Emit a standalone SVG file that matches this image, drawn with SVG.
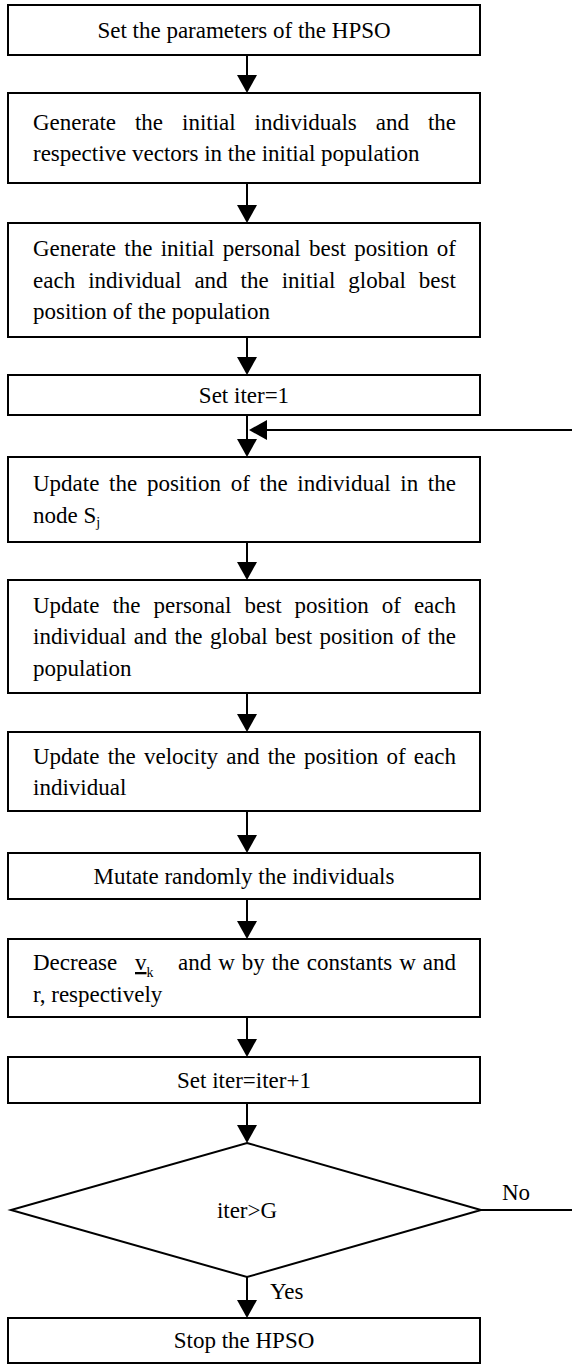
<svg xmlns="http://www.w3.org/2000/svg" width="572" height="1365" viewBox="0 0 572 1365">
<style>
.box{fill:#fff;stroke:#000;stroke-width:2}
.t{font-family:"Liberation Serif","Times New Roman",serif;font-size:23px;fill:#000}
.c{text-anchor:middle}
.sub{font-size:14px}
.conn{stroke:#000;stroke-width:2;fill:none;marker-end:url(#ah)}
.plain{stroke:#000;stroke-width:2;fill:none}
</style>
<defs>
<marker id="ah" markerUnits="userSpaceOnUse" markerWidth="18" markerHeight="20" viewBox="0 0 18 20" refX="10" refY="10" orient="auto">
<path d="M0,0 L18,10 L0,20 Z" fill="#000"/>
</marker>
</defs>
<rect width="572" height="1365" fill="#fff"/>
<g id="connectors">
<line class="conn" x1="247" y1="55" x2="247" y2="85"/>
<line class="conn" x1="247" y1="183" x2="247" y2="215"/>
<line class="conn" x1="247" y1="337" x2="247" y2="367"/>
<line class="conn" x1="247" y1="415" x2="247" y2="449"/>
<line class="conn" x1="247" y1="542" x2="247" y2="572"/>
<line class="conn" x1="247" y1="693" x2="247" y2="724"/>
<line class="conn" x1="247" y1="811" x2="247" y2="845"/>
<line class="conn" x1="247" y1="899" x2="247" y2="931"/>
<line class="conn" x1="247" y1="1017" x2="247" y2="1049"/>
<line class="conn" x1="247" y1="1103" x2="247" y2="1135"/>
<line class="conn" x1="247" y1="1277" x2="247" y2="1310"/>
<line class="plain" x1="481" y1="1210" x2="572" y2="1210"/>
<line class="conn" x1="572" y1="430" x2="257" y2="430"/>
<text class="t" x="502" y="1200">No</text>
<text class="t" x="270" y="1299">Yes</text>
</g>
<g id="n1">
<rect class="box" x="8" y="5" width="472" height="50"/>
<text class="t c" x="244" y="37.5">Set the parameters of the HPSO</text>
</g>
<g id="n2">
<rect class="box" x="8" y="93" width="472" height="90"/>
<text class="t" x="33" y="129.75" style="word-spacing:13.2px">Generate the initial individuals and the</text>
<text class="t" x="33" y="161.25">respective vectors in the initial population</text>
</g>
<g id="n3">
<rect class="box" x="8" y="223" width="472" height="114"/>
<text class="t" x="33" y="256" style="word-spacing:2.57px">Generate the initial personal best position of</text>
<text class="t" x="33" y="287.5" style="word-spacing:7.25px">each individual and the initial global best</text>
<text class="t" x="33" y="319">position of the population</text>
</g>
<g id="n4">
<rect class="box" x="8" y="375" width="472" height="40"/>
<text class="t c" x="244" y="402.5">Set iter=1</text>
</g>
<g id="n5">
<rect class="box" x="8" y="457" width="472" height="85"/>
<text class="t" x="33" y="491" style="word-spacing:3.93px">Update the position of the individual in the</text>
<text class="t" x="33" y="522.5">node S<tspan class="sub" dy="4">j</tspan></text>
</g>
<g id="n6">
<rect class="box" x="8" y="580" width="472" height="113"/>
<text class="t" x="33" y="612.5" style="word-spacing:7.27px">Update the personal best position of each</text>
<text class="t" x="33" y="644" style="word-spacing:1.74px">individual and the global best position of the</text>
<text class="t" x="33" y="675.5">population</text>
</g>
<g id="n7">
<rect class="box" x="8" y="732" width="472" height="79"/>
<text class="t" x="33" y="763.5" style="word-spacing:2.48px">Update the velocity and the position of each</text>
<text class="t" x="33" y="795">individual</text>
</g>
<g id="n8">
<rect class="box" x="8" y="853" width="472" height="46"/>
<text class="t c" x="244" y="883.5">Mutate randomly the individuals</text>
</g>
<g id="n9">
<rect class="box" x="8" y="939" width="472" height="78"/>
<text class="t" x="33" y="970">Decrease <tspan x="135" text-decoration="underline">v</tspan><tspan class="sub" dy="7">k</tspan></text>
<text class="t" x="178" y="970" style="word-spacing:1.2px">and w by the constants w and</text>
<text class="t" x="33" y="1001.5">r, respectively</text>
</g>
<g id="n10">
<rect class="box" x="8" y="1057" width="472" height="46"/>
<text class="t c" x="244" y="1087.5">Set iter=iter+1</text>
</g>
<g id="n11">
<polygon class="box" points="247,1143 481,1210 247,1277 11,1210"/>
<text class="t c" x="247" y="1218">iter&gt;G</text>
</g>
<g id="n12">
<rect class="box" x="8" y="1318" width="472" height="45"/>
<text class="t c" x="244" y="1348">Stop the HPSO</text>
</g>
</svg>
